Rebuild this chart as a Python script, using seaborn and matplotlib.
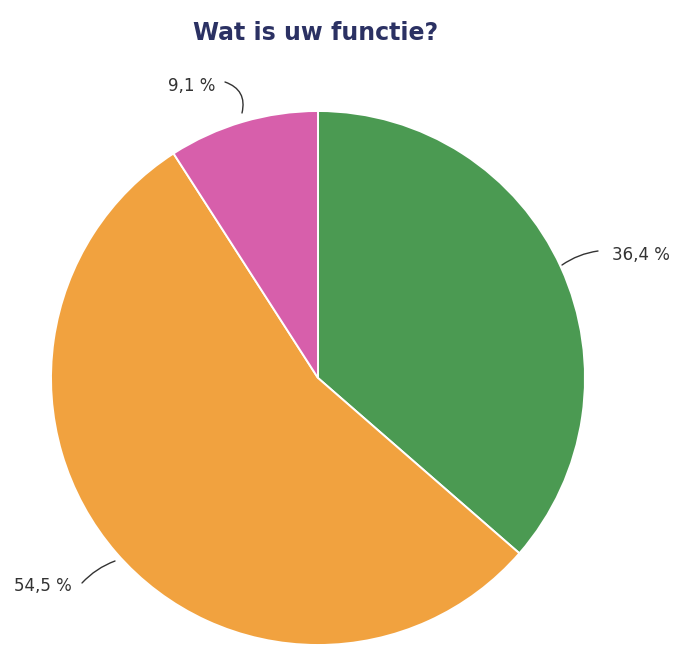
import matplotlib
matplotlib.use("Agg")
import matplotlib.pyplot as plt
import seaborn as sns

# Survey answers: share of respondents per role (%)
categories = ["Functie A", "Functie B", "Functie C"]
shares = [36.4, 54.5, 9.1]
value_labels = ["36,4 %", "54,5 %", "9,1 %"]
colors = ["#4b9a52", "#f1a23f", "#d75fab"]
title = "Wat is uw functie?"

sns.set_theme(style="white")
plt.rcParams["font.family"] = ["DejaVu Sans"]

W, H, DPI = 679, 650, 100
fig = plt.figure(figsize=(W / DPI, H / DPI), dpi=DPI)
fig.patch.set_facecolor("white")
ax = fig.add_axes([0, 0, 1, 1])

# pie centre and radius in pixels
cx, cy, R = 318, 378, 267

wedges, _ = ax.pie(
    shares, colors=colors, startangle=90, counterclock=False,
    wedgeprops=dict(edgecolor="white", linewidth=1.4),
)
ax.set_xlim(-cx / R, (W - cx) / R)
ax.set_ylim(-(H - cy) / R, cy / R)
ax.set_axis_off()


def px(x, y):
    return (x - cx) / R, (cy - y) / R


# label text positions (pixels), alignment, leader start and end, curvature
label_layout = [
    ((612, 255), "left", (598, 251), (562, 265), 0.12),
    ((72, 586), "right", (82, 583), (115, 561), -0.12),
    ((215, 86), "right", (225, 82), (242, 113), -0.45),
]
for text, (pos, ha, start, end, rad) in zip(value_labels, label_layout):
    ax.text(*px(*pos), text, ha=ha, va="center", fontsize=12, color="#333333")
    ax.annotate("", xy=px(*end), xytext=px(*start),
                arrowprops=dict(arrowstyle="-", color="#333333", lw=1.0,
                                connectionstyle=f"arc3,rad={rad}",
                                shrinkA=0, shrinkB=0))

ax.text(*px(316, 33), title, ha="center", va="center", fontsize=17,
        fontweight="bold", color="#2b3163")

fig.savefig("out.png", dpi=DPI, facecolor="white")
